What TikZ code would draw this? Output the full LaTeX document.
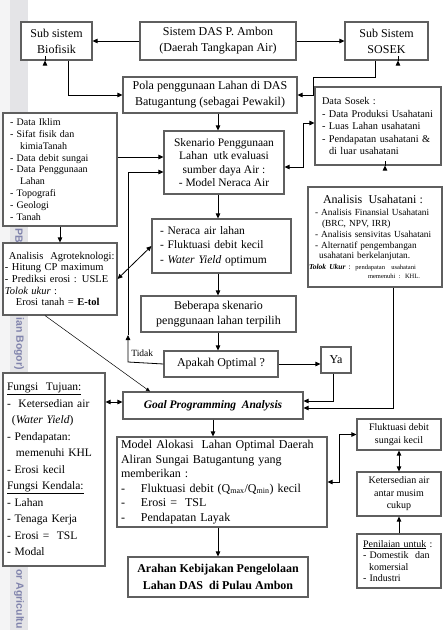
\documentclass[tikz,border=0pt]{standalone}
\usepackage{fontspec}
\setmainfont{Liberation Serif}
\setsansfont{Liberation Sans}
\usetikzlibrary{arrows.meta,calc,positioning}
\definecolor{boxgray}{RGB}{95,95,95}
\definecolor{stripgray}{RGB}{228,228,231}
\definecolor{striplight}{RGB}{244,244,245}
\definecolor{wmblue}{RGB}{128,131,172}
\newcommand{\fsz}[2]{\fontsize{#1}{#2}\selectfont}
\tikzset{every picture/.style={line width=0.75pt}}

\begin{document}
\begin{tikzpicture}[x=1pt,y=1pt,yscale=-1,
  box/.style={draw=boxgray, line width=1.1pt, fill=white, inner xsep=0pt, inner ysep=0pt},
  sized/.style 2 args={minimum width=#1pt, minimum height=#2pt},
  conn/.style={-{Triangle[length=5pt,width=4.5pt]}, line width=0.8pt},
  dconn/.style={{Triangle[length=5pt,width=4.5pt]}-{Triangle[length=5pt,width=4.5pt]}, line width=0.8pt},
  slimconn/.style={-{Triangle[length=4pt,width=3.5pt]}, line width=0.5pt},
  wm/.style={font=\sffamily\bfseries\fsz{10.5}{13}, text=wmblue, inner sep=0pt, rotate=-90, anchor=west}]
\path[use as bounding box] (0,0) rectangle (446,630);

%Shape: Rectangle [id:strip] 
\fill[striplight] (0,0) rectangle (10,630);
\fill[stripgray] (10,0) rectangle (28,630);
% Text Node
\node[wm] (wmpb) at (19,228) {PB};
% Text Node
\node[wm] (wmbogor) at (19,317) {ian Bogor)};
% Text Node
\node[wm] (wmagri) at (19,569) {or Agricultu};

%Shape: Rectangle [id:biofisik] 
\node[box, sized={71}{38}, align=center, font=\fsz{12}{16}] (biofisik) at (56.5,41) {Sub sistem\\Biofisik};
%Shape: Rectangle [id:sistem] 
\node[box, sized={156}{38}, align=center, font=\fsz{12}{16}] (sistem) at (218,41) {Sistem DAS P. Ambon\\(Daerah Tangkapan Air)};
%Shape: Rectangle [id:sosek] 
\node[box, sized={83}{38}, align=center, font=\fsz{12}{16}] (sosek) at (386.5,41) {Sub Sistem\\SOSEK};
%Shape: Rectangle [id:pola] 
\node[box, sized={174}{36}, align=center, font=\fsz{12}{16}] (pola) at (210,95) {Pola penggunaan Lahan di DAS\\Batugantung (sebagai Pewakil)};
%Shape: Rectangle [id:datasosek] 
\node[box, sized={126}{78}, text width=112pt, align=left, font=\fsz{10.3}{12.5}] (datasosek) at (378,126) {Data Sosek :\\- Data Produksi Usahatani\\- Luas Lahan usahatani\\- Pendapatan usahatani \&\\\hspace*{7pt}di luar usahatani};
%Shape: Rectangle [id:dataiklim] 
\node[box, sized={114}{113}, text width=100pt, align=left, font=\fsz{10}{11.8}] (dataiklim) at (60,169.5) {- Data Iklim\\- Sifat fisik dan\\\hspace*{10pt}kimiaTanah\\- Data debit sungai\\- Data Penggunaan\\\hspace*{10pt}Lahan\\- Topografi\\- Geologi\\- Tanah};
%Shape: Rectangle [id:agro] 
\node[box, sized={114}{72}, text width=110pt, align=left, font=\fsz{10.5}{11.6}] (agro) at (60,279) {\hspace*{4pt}Analisis\ \ Agroteknologi:\\- Hitung CP maximum\\- Prediksi erosi : USLE\\\textit{Tolok ukur} :\\\hspace*{11pt}Erosi tanah = \textbf{E-tol}};
%Shape: Rectangle [id:skenario] 
\node[box, sized={120}{63}, align=center, font=\fsz{11.5}{13.5}] (skenario) at (224,162.5) {Skenario Penggunaan\\Lahan\ \ utk evaluasi\\sumber daya Air :\\- Model Neraca Air};
%Shape: Rectangle [id:neraca] 
\node[box, sized={139}{54}, text width=123pt, align=left, font=\fsz{11.5}{14.5}] (neraca) at (221.5,246) {- Neraca air lahan\\- Fluktuasi debit kecil\\- \textit{Water Yield} optimum};
%Shape: Rectangle [id:beberapa] 
\node[box, sized={155}{36}, align=center, font=\fsz{12}{15.5}] (beberapa) at (218.5,314) {Beberapa skenario\\penggunaan lahan terpilih};
%Shape: Rectangle [id:apakah] 
\node[box, sized={114}{26}, align=center, font=\fsz{12}{14}] (apakah) at (221,364) {Apakah Optimal ?};
%Shape: Rectangle [id:ya] 
\node[box, sized={30}{26}, align=center, font=\fsz{12}{14}] (ya) at (336,360) {Ya};
%Shape: Rectangle [id:usahatani] 
\node[box, sized={134}{100}, text width=132pt, align=left, font=\fsz{9.3}{10.8}] (usahatani) at (375,237) {\hspace*{14pt}{\fsz{12}{13}Analisis\ \ Usahatani :}\\[1pt]\hspace*{6pt}- Analisis Finansial Usahatani\\\hspace*{13pt}(BRC, NPV, IRR)\\\hspace*{6pt}- Analisis sensivitas Usahatani\\\hspace*{6pt}- Alternatif pengembangan\\\hspace*{10pt}usahatani berkelanjutan.\\{\fsz{7.5}{8}\textbf{\textit{Tolok Ukur}} :} {\fsz{6.5}{7}pendapatan\ \ usahatani}\\[-2pt]\hspace*{59pt}{\fsz{6.5}{7}memenuhi : KHL.}};
%Shape: Rectangle [id:goal] 
\node[box, sized={180}{27}, align=center, font=\fsz{11.5}{14}] (goal) at (213,405.5) {\textbf{\textit{Goal Programming\ \ Analysis}}};
%Shape: Rectangle [id:fungsi] 
\node[box, sized={102}{193}, text width=94pt, align=left, font=\fsz{11.5}{16.5}] (fungsi) at (54,469.5) {\underline{Fungsi\ \ Tujuan:}\\- \ Ketersedian air\\\hspace*{5pt}(\textit{Water Yield})\\- Pendapatan:\\\hspace*{9pt}memenuhi KHL\\- Erosi kecil\\\underline{Fungsi Kendala:}\\- Lahan\\- Tenaga Kerja\\- Erosi =\ \ TSL\\- Modal};
%Shape: Rectangle [id:model] 
\node[box, sized={210}{90}, text width=202pt, align=left, font=\fsz{12}{14.5}] (model) at (222,482) {Model Alokasi\ \ Lahan Optimal Daerah\\Aliran Sungai Batugantung yang\\memberikan :\\\makebox[20pt][l]{-}Fluktuasi debit (Q\textsubscript{max}/Q\textsubscript{min}) kecil\\\makebox[20pt][l]{-}Erosi =\ \ TSL\\\makebox[20pt][l]{-}Pendapatan Layak};
%Shape: Rectangle [id:arahan] 
\node[box, sized={180}{40}, align=center, font=\bfseries\fsz{12}{16.5}] (arahan) at (218,577) {Arahan Kebijakan Pengelolaan\\Lahan DAS\ \ di Pulau Ambon};
%Shape: Rectangle [id:fluk] 
\node[box, sized={84}{31}, align=center, font=\fsz{10}{13.5}] (fluk) at (399,434.5) {Fluktuasi debit\\sungai kecil};
%Shape: Rectangle [id:keter] 
\node[box, sized={84}{44}, align=center, font=\fsz{10}{12.5}] (keter) at (399,494) {Ketersedian air\\antar musim\\cukup};
%Shape: Rectangle [id:penilaian] 
\node[box, sized={84}{54}, text width=72pt, align=left, font=\fsz{10}{11.5}] (penilaian) at (399,561) {\underline{Penilaian untuk} :\\- Domestik\ \ dan\\\hspace*{6pt}komersial\\- Industri};

% Text Node
\node[anchor=west, inner sep=0pt, font=\fsz{9.5}{11}] (tidak) at (131,353) {Tidak};

% named points for the connectors
\coordinate (spine) at (218,0);
\coordinate (sosekbend) at (313,77);
\coordinate (ska) at ($(skenario.west)+(0,-5.5)$);
\coordinate (skb) at ($(skenario.west)+(0,9.5)$);
\coordinate (tidakbend) at (128,362);
\coordinate (tidakmid) at (128,335);
\coordinate (gw) at ($(goal.west)+(0,-3.5)$);
\coordinate (dsw) at ($(datasosek.west)+(0,-3)$);
\coordinate (ske) at ($(skenario.east)+(0,4.5)$);

%Straight Lines [id:top] 
\draw[conn] (sistem.west) -- (biofisik.east);
\draw[conn] (sistem.east) -- (sosek.west);
%Straight Lines [id:biofisik] 
\draw[conn] ($(biofisik.south)+(-11.5,0)$) -- ($(biofisik.south)+(-11.5,0)$ |- dataiklim.north);
\draw[conn] ($(biofisik.south)+(11.5,0)$) |- (pola.west);
%Straight Lines [id:sosek] 
\draw[conn] ($(sosek.south)+(-11.5,0)$) |- (sosekbend) |- (pola.east);
\draw[conn] ($(sosek.south)+(11.5,0)$) -- ($(sosek.south)+(11.5,0)$ |- datasosek.north);
%Straight Lines [id:spine] 
\draw[conn] (pola.south -| spine) -- (skenario.north -| spine);
\draw[conn] (skenario.south -| spine) -- (neraca.north -| spine);
\draw[conn] (neraca.south -| spine) -- (beberapa.north -| spine);
\draw[conn] (beberapa.south -| spine) -- (apakah.north -| spine);
%Straight Lines [id:left] 
\draw[conn] (dataiklim.east |- ska) -- (ska);
\draw[conn] (dataiklim.south) -- (agro.north);
\draw[dconn] (agro.east) -- (neraca.west);
\draw[slimconn] ($(agro.south)+(-15,0)$) -- ($(goal.north)+(-63,0)$);
\draw[dconn] (fungsi.east |- gw) -- (gw);
%Straight Lines [id:tidak] 
\draw[conn] (apakah.west) -- (tidakbend) -- (tidakmid);
\draw[conn] (tidakmid) |- (skb);
%Straight Lines [id:ya] 
\draw[conn] (apakah.east) -- (apakah.east -| ya.west);
\draw[conn] ($(ya.south)+(-3,0)$) |- ($(goal.east)+(0,-4.5)$);
%Straight Lines [id:usahatani] 
\draw[dconn] (dsw) -- ++(-11,0) |- (ske);
\draw[conn] ($(datasosek.south)+(7,0)$) -- ($(datasosek.south)+(7,0)$ |- usahatani.north);
\draw[conn] ($(usahatani.south)+(18,0)$) |- ($(goal.east)+(0,2.5)$);
%Straight Lines [id:bottom] 
\draw[conn] (goal.south) -- (goal.south |- model.north);
\draw[conn] (arahan.north |- model.south) -- (arahan.north);
\draw[dconn] (model.east) -- ++(12,0) |- (fluk.west);
\draw[dconn] (fluk.south) -- (keter.north);
\draw[conn] (penilaian.north) -- (keter.south);

\end{tikzpicture}
\end{document}
